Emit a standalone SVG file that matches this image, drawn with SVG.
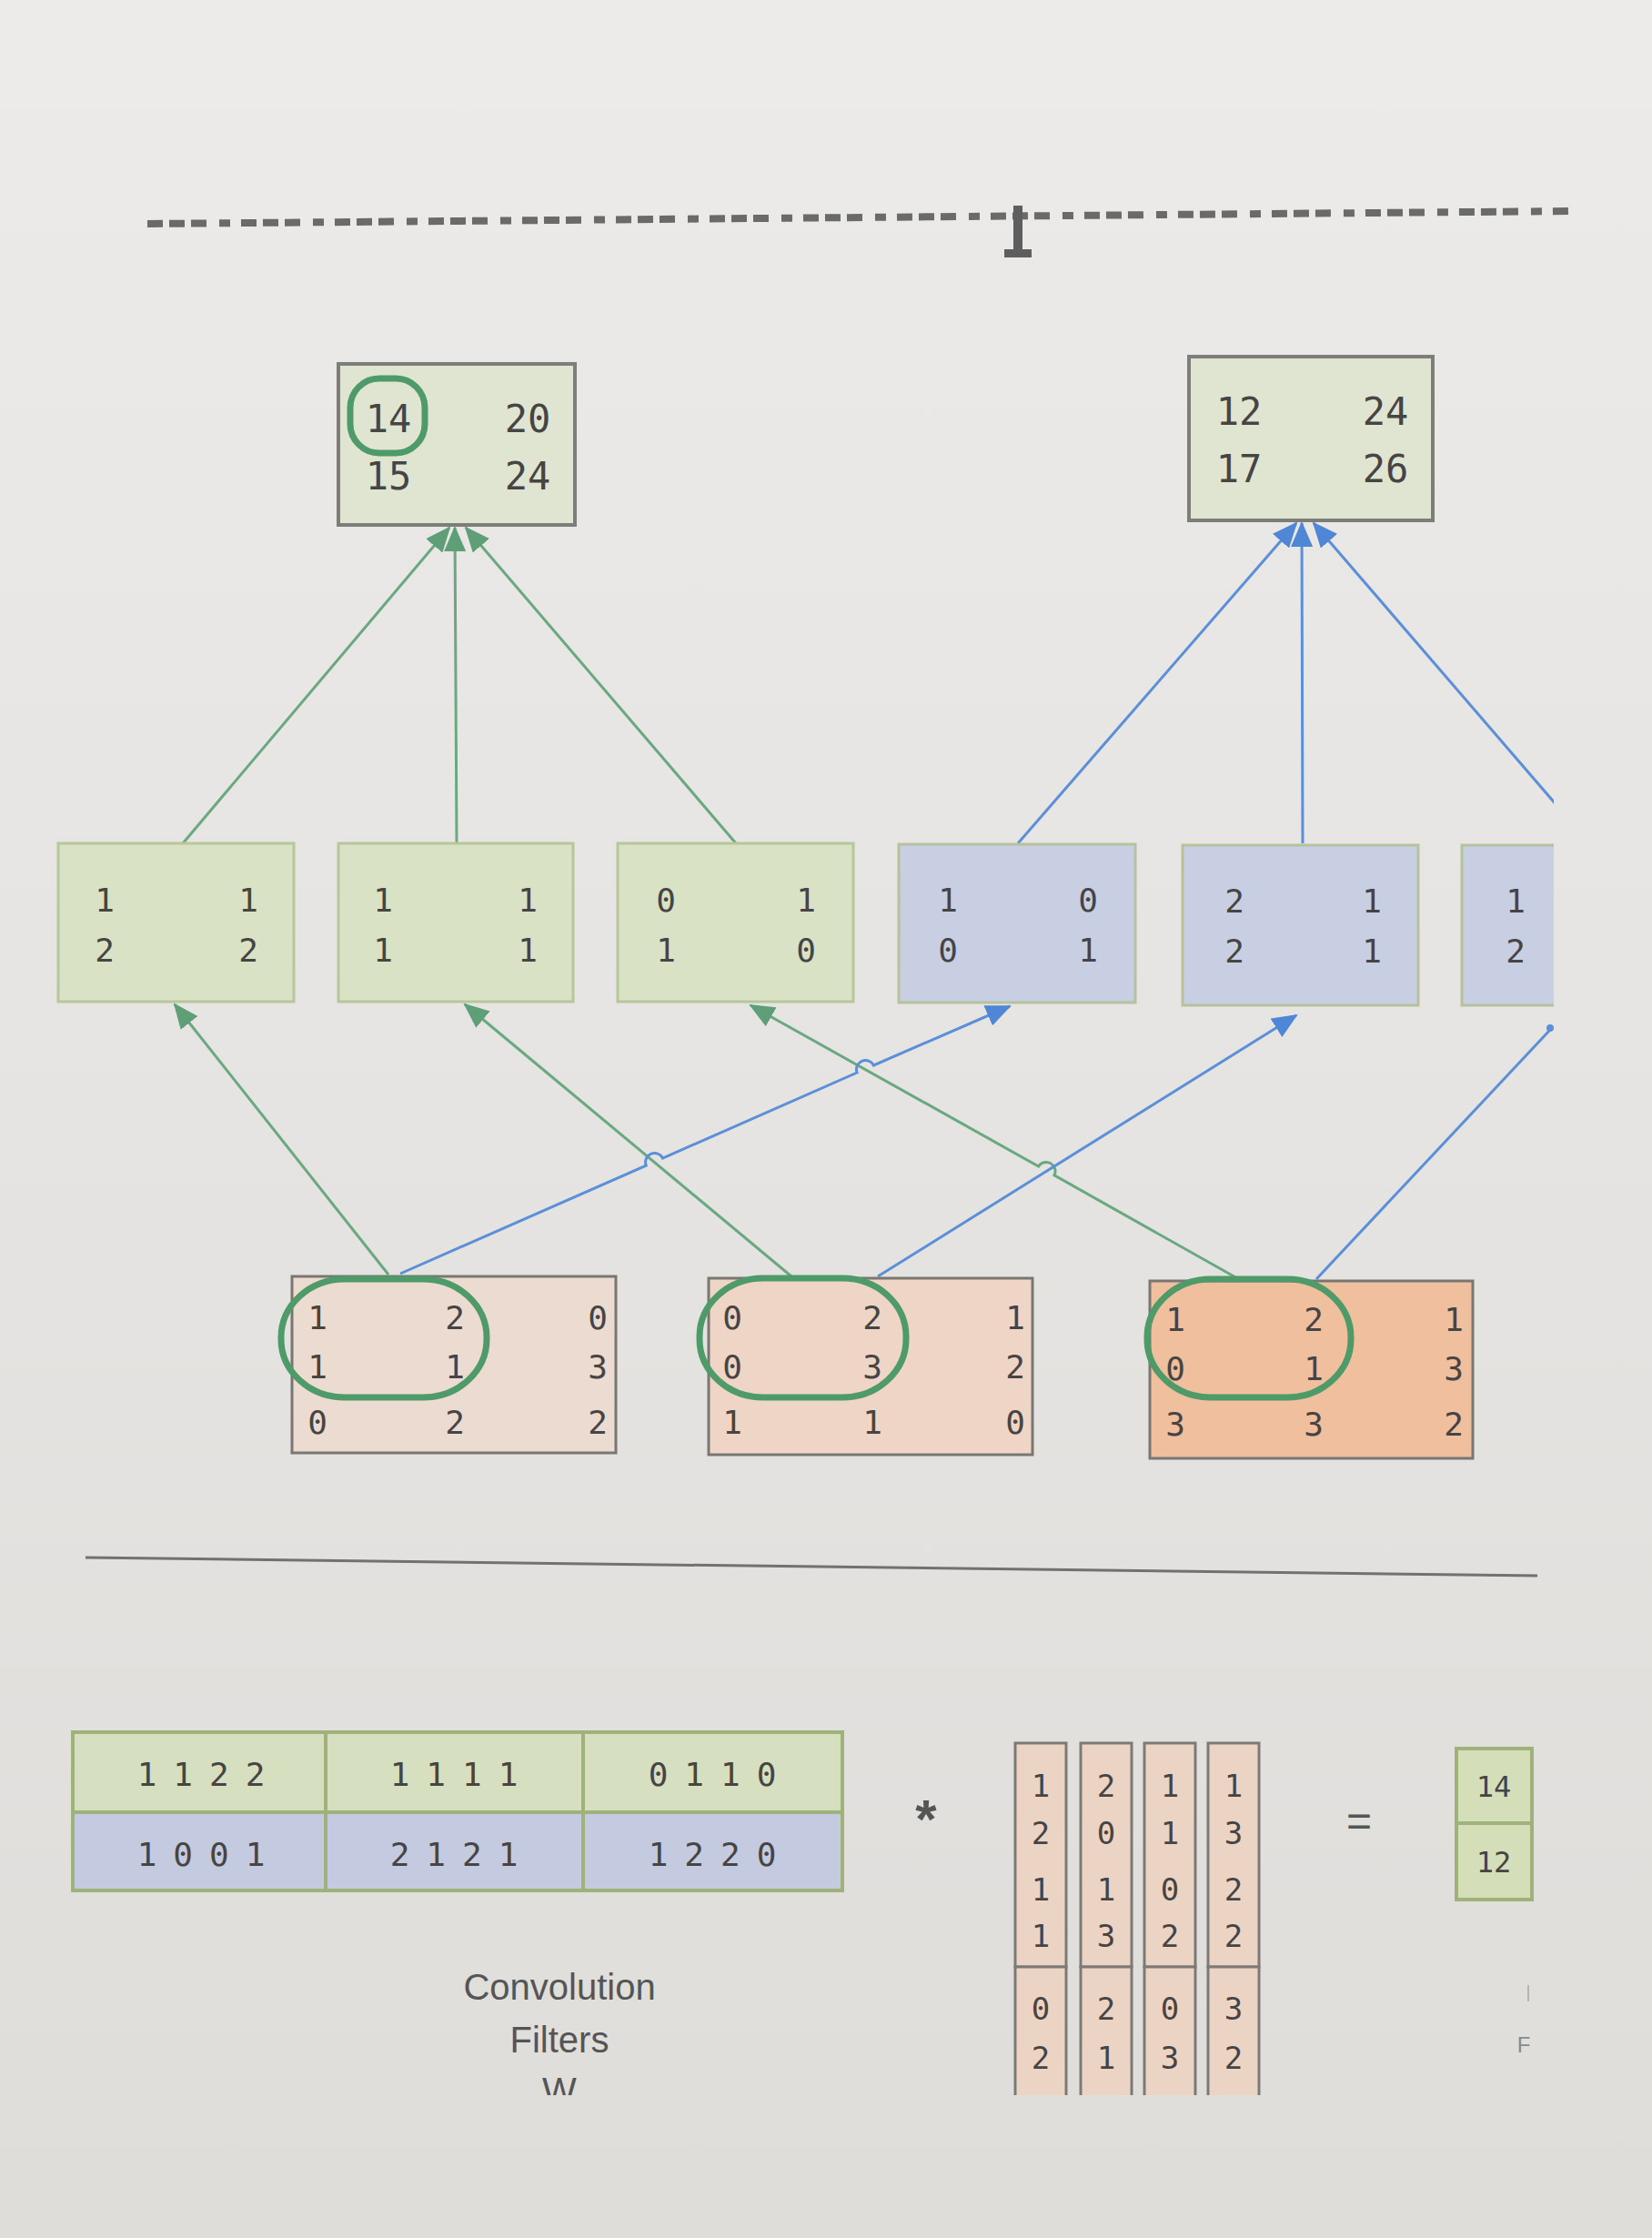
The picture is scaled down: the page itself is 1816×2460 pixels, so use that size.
<svg xmlns="http://www.w3.org/2000/svg" width="1816" height="2460" viewBox="0 0 1816 2460">
<defs>
<linearGradient id="paper" x1="0" y1="0" x2="0" y2="1">
<stop offset="0" stop-color="#ecebe9"/>
<stop offset="1" stop-color="#dedddA"/>
</linearGradient>
<marker id="ag" markerUnits="userSpaceOnUse" markerWidth="28" markerHeight="24" refX="26" refY="12" orient="auto"><path d="M0,0 L28,12 L0,24 z" fill="#5f9f78"/></marker>
<marker id="ab" markerUnits="userSpaceOnUse" markerWidth="28" markerHeight="24" refX="26" refY="12" orient="auto"><path d="M0,0 L28,12 L0,24 z" fill="#4f86d6"/></marker>
<clipPath id="rightcut"><rect x="0" y="0" width="1708" height="2460"/></clipPath>
<clipPath id="bottomcut"><rect x="0" y="0" width="1816" height="2303"/></clipPath>
<style>
.d{font-family:"DejaVu Sans Mono","Liberation Mono",monospace;fill:#474444;text-anchor:middle}
.t42{font-size:42px}.t36{font-size:36px}.t34{font-size:34px}.t32{font-size:32px}
.lbl{font-family:"Liberation Sans","Open Sans",sans-serif;fill:#555;text-anchor:middle;font-size:40px}
.top{fill:#e0e5d2;stroke:#7d7d7a;stroke-width:4}
.fg{fill:#d9e2c4;stroke:#b7c69b;stroke-width:3}
.fb{fill:#c9cfe2;stroke:#b5c29c;stroke-width:3}
.inp{stroke:#7a7672;stroke-width:3}
.ring{fill:none;stroke:#4e9a68;stroke-width:7}
.cg{fill:none;stroke:#6aa882;stroke-width:3}
.cb{fill:none;stroke:#5b8fd8;stroke-width:3}
.tg{fill:#d6dfbf;stroke:#9fb27a;stroke-width:4}
.tb{fill:#c4cadf;stroke:#9fb27a;stroke-width:4}
.vec{fill:#ecd4c4;stroke:#7d7a76;stroke-width:3}
.tab{letter-spacing:18px}
</style>
</defs>
<rect x="0" y="0" width="1816" height="2460" fill="url(#paper)"/>

<g id="title-remnant">
<line x1="162" y1="246" x2="1728" y2="232" stroke="#6a6a6a" stroke-width="8" stroke-dasharray="17 7 17 7 17 14 12 12"/>
<rect x="1114" y="226" width="10" height="54" fill="#5e5e5e"/>
<rect x="1104" y="274" width="30" height="9" fill="#5e5e5e"/>
</g>

<g id="connectors">
<line class="cg" x1="201" y1="927" x2="494" y2="580" marker-end="url(#ag)"/>
<line class="cg" x1="502" y1="927" x2="500" y2="580" marker-end="url(#ag)"/>
<line class="cg" x1="809" y1="927" x2="512" y2="580" marker-end="url(#ag)"/>
<line class="cb" x1="1119" y1="927" x2="1425" y2="575" marker-end="url(#ab)"/>
<line class="cb" x1="1432" y1="927" x2="1431" y2="575" marker-end="url(#ab)"/>
<g clip-path="url(#rightcut)"><line class="cb" x1="1712" y1="886" x2="1444" y2="575" marker-end="url(#ab)"/></g>

<line class="cg" x1="427" y1="1401" x2="192" y2="1104" marker-end="url(#ag)"/>
<line class="cg" x1="870" y1="1403" x2="511" y2="1104" marker-end="url(#ag)"/>
<path class="cg" d="M1360,1405 L1159,1291.9 A10,10 0 0 0 1141.6,1282.1 L825,1105" marker-end="url(#ag)"/>
<path class="cb" d="M440,1400 L710.2,1281.1 A10,10 0 0 1 728.5,1273.1 L942.1,1179 A10,10 0 0 1 960.4,1171 L1110,1106" marker-end="url(#ab)"/>
<line class="cb" x1="965" y1="1403" x2="1425" y2="1116" marker-end="url(#ab)"/>
<line class="cb" x1="1447" y1="1406" x2="1704" y2="1132"/>
<circle cx="1704" cy="1130" r="4" fill="#5b8fd8"/>
</g>

<g id="out-1">
<rect class="top" x="372" y="400" width="260" height="177"/>
<rect class="ring" x="385" y="416" width="82" height="82" rx="32"/>
<text class="d t42" x="427" y="475">14</text><text class="d t42" x="580" y="475">20</text>
<text class="d t42" x="427" y="538">15</text><text class="d t42" x="580" y="538">24</text>
</g>
<g id="out-2">
<rect class="top" x="1307" y="392" width="268" height="180"/>
<text class="d t42" x="1362" y="467">12</text><text class="d t42" x="1523" y="467">24</text>
<text class="d t42" x="1362" y="530">17</text><text class="d t42" x="1523" y="530">26</text>
</g>

<g id="fmap-g1">
<rect class="fg" x="64" y="927" width="259" height="174"/>
<text class="d t36" x="115" y="1002">1</text><text class="d t36" x="273" y="1002">1</text>
<text class="d t36" x="115" y="1057">2</text><text class="d t36" x="273" y="1057">2</text>
</g>
<g id="fmap-g2">
<rect class="fg" x="372" y="927" width="258" height="174"/>
<text class="d t36" x="421" y="1002">1</text><text class="d t36" x="580" y="1002">1</text>
<text class="d t36" x="421" y="1057">1</text><text class="d t36" x="580" y="1057">1</text>
</g>
<g id="fmap-g3">
<rect class="fg" x="679" y="927" width="259" height="174"/>
<text class="d t36" x="732" y="1002">0</text><text class="d t36" x="886" y="1002">1</text>
<text class="d t36" x="732" y="1057">1</text><text class="d t36" x="886" y="1057">0</text>
</g>
<g id="fmap-b1">
<rect class="fb" x="988" y="928" width="260" height="174"/>
<text class="d t36" x="1042" y="1002">1</text><text class="d t36" x="1196" y="1002">0</text>
<text class="d t36" x="1042" y="1057">0</text><text class="d t36" x="1196" y="1057">1</text>
</g>
<g id="fmap-b2">
<rect class="fb" x="1300" y="929" width="259" height="176"/>
<text class="d t36" x="1357" y="1003">2</text><text class="d t36" x="1508" y="1003">1</text>
<text class="d t36" x="1357" y="1058">2</text><text class="d t36" x="1508" y="1058">1</text>
</g>
<g id="fmap-b3" clip-path="url(#rightcut)">
<rect class="fb" x="1607" y="929" width="140" height="176"/>
<text class="d t36" x="1666" y="1003">1</text>
<text class="d t36" x="1666" y="1058">2</text>
</g>

<g id="input-1">
<rect class="inp" x="321" y="1403" width="356" height="194" fill="#ecdbd0"/>
<text class="d t36" x="349" y="1461">1</text><text class="d t36" x="500" y="1461">2</text><text class="d t36" x="657" y="1461">0</text>
<text class="d t36" x="349" y="1515">1</text><text class="d t36" x="500" y="1515">1</text><text class="d t36" x="657" y="1515">3</text>
<text class="d t36" x="349" y="1576">0</text><text class="d t36" x="500" y="1576">2</text><text class="d t36" x="657" y="1576">2</text>
<rect class="ring" x="309" y="1406" width="226" height="130" rx="70" ry="64"/>
</g>
<g id="input-2">
<rect class="inp" x="779" y="1405" width="356" height="194" fill="#eed5c5"/>
<text class="d t36" x="805" y="1461">0</text><text class="d t36" x="959" y="1461">2</text><text class="d t36" x="1116" y="1461">1</text>
<text class="d t36" x="805" y="1515">0</text><text class="d t36" x="959" y="1515">3</text><text class="d t36" x="1116" y="1515">2</text>
<text class="d t36" x="805" y="1576">1</text><text class="d t36" x="959" y="1576">1</text><text class="d t36" x="1116" y="1576">0</text>
<rect class="ring" x="769" y="1405" width="227" height="131" rx="70" ry="64"/>
</g>
<g id="input-3">
<rect class="inp" x="1264" y="1408" width="355" height="195" fill="#efbf9e"/>
<text class="d t36" x="1292" y="1463">1</text><text class="d t36" x="1444" y="1463">2</text><text class="d t36" x="1598" y="1463">1</text>
<text class="d t36" x="1292" y="1517">0</text><text class="d t36" x="1444" y="1517">1</text><text class="d t36" x="1598" y="1517">3</text>
<text class="d t36" x="1292" y="1578">3</text><text class="d t36" x="1444" y="1578">3</text><text class="d t36" x="1598" y="1578">2</text>
<rect class="ring" x="1261" y="1406" width="224" height="130" rx="70" ry="64"/>
</g>

<line id="divider" x1="94" y1="1712" x2="1690" y2="1732" stroke="#717171" stroke-width="3"/>

<g id="filter-matrix">
<rect class="tg" x="80" y="1904" width="278" height="88"/>
<rect class="tg" x="358" y="1904" width="283" height="88"/>
<rect class="tg" x="641" y="1904" width="285" height="88"/>
<rect class="tb" x="80" y="1992" width="278" height="86"/>
<rect class="tb" x="358" y="1992" width="283" height="86"/>
<rect class="tb" x="641" y="1992" width="285" height="86"/>
<text class="d t36 tab" x="230" y="1963">1122</text>
<text class="d t36 tab" x="508" y="1963">1111</text>
<text class="d t36 tab" x="792" y="1963">0110</text>
<text class="d t36 tab" x="230" y="2051">1001</text>
<text class="d t36 tab" x="508" y="2051">2121</text>
<text class="d t36 tab" x="792" y="2051">1220</text>
</g>
<text id="op-mul" class="lbl" x="1018" y="2020" style="font-size:60px;font-weight:bold;fill:#555">*</text>

<g id="input-columns" clip-path="url(#bottomcut)">
<rect class="vec" x="1116" y="1916" width="56" height="246"/><rect class="vec" x="1116" y="2162" width="56" height="160"/>
<rect class="vec" x="1188" y="1916" width="56" height="246"/><rect class="vec" x="1188" y="2162" width="56" height="160"/>
<rect class="vec" x="1258" y="1916" width="56" height="246"/><rect class="vec" x="1258" y="2162" width="56" height="160"/>
<rect class="vec" x="1328" y="1916" width="56" height="246"/><rect class="vec" x="1328" y="2162" width="56" height="160"/>
<text class="d t34" x="1144" y="1975">1</text><text class="d t34" x="1144" y="2027">2</text><text class="d t34" x="1144" y="2089">1</text><text class="d t34" x="1144" y="2140">1</text><text class="d t34" x="1144" y="2220">0</text><text class="d t34" x="1144" y="2274">2</text>
<text class="d t34" x="1216" y="1975">2</text><text class="d t34" x="1216" y="2027">0</text><text class="d t34" x="1216" y="2089">1</text><text class="d t34" x="1216" y="2140">3</text><text class="d t34" x="1216" y="2220">2</text><text class="d t34" x="1216" y="2274">1</text>
<text class="d t34" x="1286" y="1975">1</text><text class="d t34" x="1286" y="2027">1</text><text class="d t34" x="1286" y="2089">0</text><text class="d t34" x="1286" y="2140">2</text><text class="d t34" x="1286" y="2220">0</text><text class="d t34" x="1286" y="2274">3</text>
<text class="d t34" x="1356" y="1975">1</text><text class="d t34" x="1356" y="2027">3</text><text class="d t34" x="1356" y="2089">2</text><text class="d t34" x="1356" y="2140">2</text><text class="d t34" x="1356" y="2220">3</text><text class="d t34" x="1356" y="2274">2</text>
</g>
<text id="op-eq" class="lbl" x="1494" y="2018" style="font-size:48px;fill:#555">=</text>

<g id="result">
<rect class="tg" x="1601" y="1922" width="83" height="82" style="fill:#d4dfb9"/>
<rect class="tg" x="1601" y="2004" width="83" height="84" style="fill:#d4dfb9"/>
<text class="d t32" x="1642" y="1975">14</text>
<text class="d t32" x="1642" y="2058">12</text>
</g>
<line x1="1680" y1="2182" x2="1680" y2="2200" stroke="#b5b5b2" stroke-width="2"/>
<text class="lbl" x="1675" y="2256" style="font-size:24px;fill:#8a8a88">F</text>

<g id="label-filters" clip-path="url(#bottomcut)">
<text class="lbl" x="615" y="2198">Convolution</text>
<text class="lbl" x="615" y="2256">Filters</text>
<text class="lbl" x="615" y="2312">W</text>
</g>
</svg>
